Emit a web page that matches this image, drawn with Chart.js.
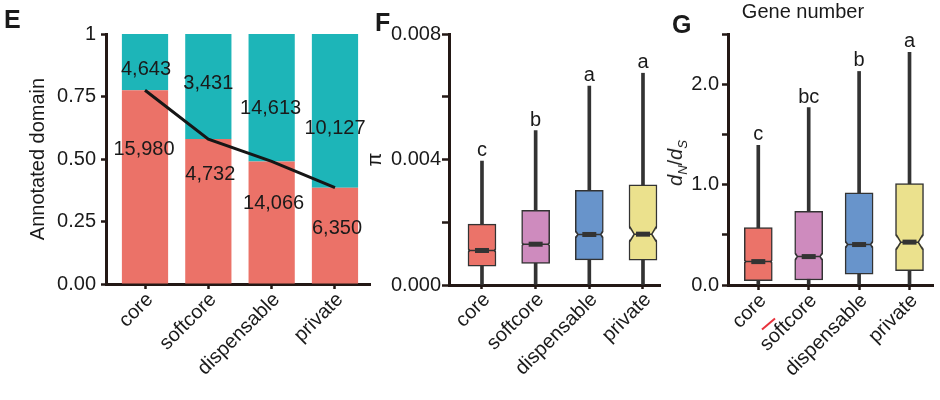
<!DOCTYPE html>
<html><head><meta charset="utf-8">
<script src="https://cdn.jsdelivr.net/npm/chart.js@4.4.1/dist/chart.umd.min.js"></script>
<style>
html,body{margin:0;padding:0;background:#fff}
#wrap{position:relative;width:940px;height:400px;overflow:hidden;font-family:"Liberation Sans",Arial,sans-serif;color:#1a1a1a}
canvas{position:absolute;top:0}
.pl{position:absolute;font-weight:bold;font-size:25px;line-height:1}
#gy{position:absolute;left:677px;top:163px;transform:translate(-50%,-50%) rotate(-90deg);font-size:20px;line-height:1;white-space:nowrap}
#gy sub{font-size:13px}
#slash{position:absolute;left:760px;top:323px;width:17px;height:2px;background:#e8323c;transform:rotate(-40deg)}
</style></head><body>
<div id="wrap">
<canvas id="cE" width="375" height="400" style="left:0"></canvas>
<canvas id="cF" width="305" height="400" style="left:360px"></canvas>
<canvas id="cG" width="275" height="400" style="left:665px"></canvas>
<div class="pl" style="left:4px;top:7px">E</div>
<div class="pl" style="left:375px;top:10px">F</div>
<div class="pl" style="left:672px;top:12px">G</div>
<div style="position:absolute;left:803px;top:1px;transform:translateX(-50%);font-size:20px;line-height:1;white-space:nowrap">Gene number</div>
<div id="gy"><i>d</i><sub><i>N</i></sub>/<i>d</i><sub><i>S</i></sub></div>
<div id="slash"></div>
</div>
<script>
// ---------- data ----------
const categories = ['core', 'softcore', 'dispensable', 'private'];

// Panel E: gene counts with / without annotated domain
const domainCounts = [15980, 4732, 14066, 6350];
const noDomainCounts = [4643, 3431, 14613, 10127];
const eTickValues = [0, 0.25, 0.5, 0.75, 1];
const eTickText = ['0.00', '0.25', '0.50', '0.75', '1'];

// Panel F: nucleotide diversity (pi) box plots
const piWhiskerLow = [0, 0, 0, 0];
const piQ1 = [0.00060, 0.00069, 0.00080, 0.00079];
const piMedian = [0.00110, 0.00130, 0.00161, 0.00162];
const piQ3 = [0.00194, 0.00238, 0.00302, 0.00319];
const piWhiskerHigh = [0.00395, 0.00492, 0.00634, 0.00675];
const piNotch = [0.00004, 0.00004, 0.00010, 0.00024];
const piLetters = ['c', 'b', 'a', 'a'];
const piTickValues = [0, 0.002, 0.004, 0.006, 0.008];
const piTickText = ['0.000', '', '0.004', '', '0.008'];

// Panel G: dN/dS box plots
const dndsWhiskerLow = [0, 0, 0, 0];
const dndsQ1 = [0.043, 0.050, 0.107, 0.143];
const dndsMedian = [0.233, 0.283, 0.403, 0.427];
const dndsQ3 = [0.573, 0.733, 0.917, 1.010];
const dndsWhiskerHigh = [1.39, 1.767, 2.127, 2.317];
const dndsNotch = [0.012, 0.033, 0.030, 0.075];
const dndsLetters = ['c', 'bc', 'b', 'a'];
const dndsTickValues = [0, 0.5, 1, 1.5, 2, 2.5];
const dndsTickText = ['0.0', '', '1.0', '', '2.0', ''];

// ---------- styles ----------
const TXT = '#1a1a1a', AX = '#231815', DARK = '#333333';
const FONT = '"Liberation Sans", Arial, sans-serif';
const RED_E = '#EB7268', TEAL = '#1DB5B8';
const boxColors = ['#EB7369', '#CE8BBE', '#6894CB', '#EBE18D'];
Chart.defaults.font.family = FONT;
Chart.defaults.font.size = 20;
Chart.defaults.color = TXT;

const idx = categories.map((_, i) => i);
const domainFrac = domainCounts.map((v, i) => v / (v + noDomainCounts[i]));
const noDomainFrac = noDomainCounts.map((v, i) => v / (v + domainCounts[i]));

function xScale(min, max, height, tickLen, pad) {
  return {
    type: 'linear', min, max, offset: false, stacked: true,
    afterBuildTicks: s => { s.ticks = idx.map(i => ({ value: i })); },
    afterFit: s => { s.height = height; },
    ticks: { autoSkip: false, minRotation: 45, maxRotation: 45, padding: pad, labelOffset: 5, color: TXT,
      font: { size: 20 }, callback: v => categories[v] },
    grid: { display: true, drawOnChartArea: false, offset: false, tickLength: tickLen, tickWidth: 2.5, tickColor: AX },
    border: { display: true, color: AX, width: 3 }
  };
}
function yScale(o) {
  return {
    type: 'linear', min: o.min, max: o.max, stacked: !!o.stacked,
    afterBuildTicks: s => { s.ticks = o.values.map(v => ({ value: v })); },
    afterFit: s => { s.width = o.width; },
    ticks: { autoSkip: false, padding: o.pad, color: TXT, font: { size: 20 }, callback: (v, i) => o.texts[i] },
    title: o.title ? { display: true, text: o.title, color: TXT, font: { size: 20 }, padding: { top: o.titlePad, bottom: 0 } } : { display: false },
    grid: { display: true, drawOnChartArea: false, tickLength: o.tickLen, tickWidth: 2.5, tickColor: AX },
    border: { display: true, color: AX, width: 3 }
  };
}
function baseOptions(padding, scales) {
  return {
    responsive: false, animation: false, events: [],
    layout: { padding },
    plugins: { legend: { display: false }, tooltip: { enabled: false } },
    scales
  };
}

// ---------- Panel E ----------
const countLabelPlugin = {
  id: 'countLabels',
  afterDatasetsDraw(chart, args, opts) {
    const { ctx, scales: { x, y } } = chart;
    ctx.save();
    ctx.font = '20px ' + FONT; ctx.fillStyle = TXT; ctx.textAlign = 'center'; ctx.textBaseline = 'middle';
    idx.forEach(i => {
      const cx = x.getPixelForValue(i), by = y.getPixelForValue(domainFrac[i]);
      ctx.fillText(noDomainCounts[i].toLocaleString('en-US'), cx + opts.topDx[i], by + opts.topDy[i]);
      ctx.fillText(domainCounts[i].toLocaleString('en-US'), cx + opts.botDx[i], by + opts.botDy[i]);
    });
    ctx.restore();
  }
};
const optE = baseOptions({ left: 0, top: 34, right: 5, bottom: 0 }, {
  x: xScale(-0.616, 3.553, 116, 5, -1),
  y: yScale({ min: 0, max: 1, values: eTickValues, texts: eTickText, width: 106, pad: 5, tickLen: 5,
    title: 'Annotated domain', titlePad: 26, stacked: true })
});
optE.plugins.countLabels = { topDx: [1, 0, -1, 0], topDy: [-21, -56, -53, -59], botDx: [-1, 2, 2, 2], botDy: [59, 35, 42, 41] };
new Chart(document.getElementById('cE'), {
  type: 'bar',
  data: { datasets: [
    { type: 'bar', data: idx.map(i => ({ x: i, y: domainFrac[i] })), backgroundColor: RED_E, borderWidth: 0,
      barPercentage: 0.73, categoryPercentage: 1, stack: 'dom', order: 1 },
    { type: 'bar', data: idx.map(i => ({ x: i, y: noDomainFrac[i] })), backgroundColor: TEAL, borderWidth: 0,
      barPercentage: 0.73, categoryPercentage: 1, stack: 'dom', order: 1 },
    { type: 'line', data: idx.map(i => ({ x: i, y: domainFrac[i] })), borderColor: '#161616', borderWidth: 3,
      pointRadius: 0, fill: false, stack: 'line', order: 0 }
  ] },
  options: optE,
  plugins: [countLabelPlugin]
});

// ---------- box plots ----------
function makeBoxPlugin(stats) {
  return {
    id: 'notchBox',
    afterDatasetsDraw(chart) {
      const { ctx } = chart; const y = chart.scales.y;
      const meta = chart.getDatasetMeta(1);
      ctx.save();
      meta.data.forEach((bar, i) => {
        const { x: cx, width } = bar.getProps(['x', 'width'], true);
        const left = cx - width / 2, right = cx + width / 2;
        const ym = y.getPixelForValue(stats.median[i]);
        const yh = y.getPixelForValue(stats.median[i] + stats.notch[i]);
        const yl = y.getPixelForValue(stats.median[i] - stats.notch[i]);
        const depth = Math.min((yl - yh) * 0.3, width * 0.2);
        ctx.fillStyle = '#fff';
        ctx.beginPath(); ctx.moveTo(left - 1, yh); ctx.lineTo(left + depth, ym); ctx.lineTo(left - 1, yl); ctx.closePath(); ctx.fill();
        ctx.beginPath(); ctx.moveTo(right + 1, yh); ctx.lineTo(right - depth, ym); ctx.lineTo(right + 1, yl); ctx.closePath(); ctx.fill();
        ctx.strokeStyle = DARK; ctx.lineWidth = 1.5;
        ctx.beginPath();
        ctx.moveTo(left + 0.75, yh); ctx.lineTo(left + depth + 0.75, ym); ctx.lineTo(left + 0.75, yl);
        ctx.moveTo(right - 0.75, yh); ctx.lineTo(right - depth - 0.75, ym); ctx.lineTo(right - 0.75, yl);
        ctx.moveTo(left + depth, ym); ctx.lineTo(right - depth, ym);
        ctx.stroke();
        ctx.fillStyle = DARK; ctx.fillRect(cx - 7, ym - 2.5, 14, 5);
        ctx.fillStyle = TXT; ctx.font = '20px ' + FONT; ctx.textAlign = 'center'; ctx.textBaseline = 'alphabetic';
        ctx.fillText(stats.letters[i], cx, y.getPixelForValue(stats.hi[i]) - 5);
      });
      ctx.restore();
    }
  };
}
function boxChart(id, stats, options) {
  new Chart(document.getElementById(id), {
    type: 'bar',
    data: { datasets: [
      { data: idx.map(i => ({ x: i, y: [stats.lo[i], stats.hi[i]] })), backgroundColor: DARK, borderWidth: 0,
        barThickness: 3, grouped: false, order: 2 },
      { data: idx.map(i => ({ x: i, y: [stats.q1[i], stats.q3[i]] })), backgroundColor: boxColors,
        borderColor: DARK, borderWidth: 1.5, borderSkipped: false, barThickness: 28, grouped: false, order: 1 }
    ] },
    options,
    plugins: [makeBoxPlugin(stats)]
  });
}

boxChart('cF',
  { lo: piWhiskerLow, q1: piQ1, median: piMedian, q3: piQ3, hi: piWhiskerHigh, notch: piNotch, letters: piLetters },
  baseOptions({ left: 0, top: 34, right: 5, bottom: 0 }, {
    x: xScale(-0.6145, 3.317, 115, 4, -1),
    y: yScale({ min: 0, max: 0.008, values: piTickValues, texts: piTickText, width: 89, pad: 1, tickLen: 7,
      title: 'π', titlePad: 3 })
  }));

boxChart('cG',
  { lo: dndsWhiskerLow, q1: dndsQ1, median: dndsMedian, q3: dndsQ3, hi: dndsWhiskerHigh, notch: dndsNotch, letters: dndsLetters },
  baseOptions({ left: 0, top: 34, right: 7, bottom: 0 }, {
    x: xScale(-0.601, 3.466, 115, 5, -1),
    y: yScale({ min: 0, max: 2.5, values: dndsTickValues, texts: dndsTickText, width: 63, pad: 3, tickLen: 6 })
  }));
</script>
</body></html>
